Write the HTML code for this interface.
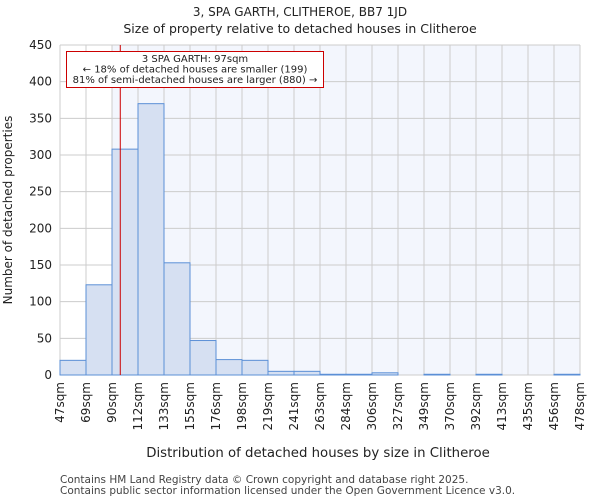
<!DOCTYPE html>
<html><head><meta charset="utf-8"><style>
body{margin:0;background:#fff;font-family:"DejaVu Sans","Liberation Sans",sans-serif;}
</style></head><body>
<svg width="600" height="500" xmlns="http://www.w3.org/2000/svg" font-family="DejaVu Sans, Liberation Sans, sans-serif">
<text x="300" y="16" font-size="12" text-anchor="middle" fill="#222">3, SPA GARTH, CLITHEROE, BB7 1JD</text>
<text x="300" y="33" font-size="12.5" text-anchor="middle" fill="#222">Size of property relative to detached houses in Clitheroe</text>
<g id="plot"></g>
<text x="318" y="457" font-size="13.3" text-anchor="middle" fill="#222">Distribution of detached houses by size in Clitheroe</text>
<text transform="translate(12,210) rotate(-90)" font-size="12" text-anchor="middle" fill="#222">Number of detached properties</text>
<text x="60" y="483" font-size="10.5" fill="#444">Contains HM Land Registry data © Crown copyright and database right 2025.</text>
<text x="60" y="494" font-size="10.5" fill="#444">Contains public sector information licensed under the Open Government Licence v3.0.</text>
</svg>
<script>
const categories=["47sqm","69sqm","90sqm","112sqm","133sqm","155sqm","176sqm","198sqm","219sqm","241sqm","263sqm","284sqm","306sqm","327sqm","349sqm","370sqm","392sqm","413sqm","435sqm","456sqm","478sqm"];
const counts=[20,123,308,370,153,47,21,20,5,5,1,1,3,0,1,0,1,0,0,1];
const yTicks=[0,50,100,150,200,250,300,350,400,450];
const edges=[47,69,90,112,133,155,176,198,219,241,263,284,306,327,349,370,392,413,435,456,478];
const subjectSize=97;
const NS="http://www.w3.org/2000/svg";
const L=60,R=580,T=45,B=375,yMax=450;
const n=counts.length,bw=(R-L)/n;
const y=v=>B-v/yMax*(B-T);
const xi=i=>L+i*bw;
function xv(v){for(let i=0;i<edges.length-1;i++){if(v<=edges[i+1])return xi(i)+bw*(v-edges[i])/(edges[i+1]-edges[i]);}return R;}
const g=document.getElementById('plot');
function mk(tag,a){const e=document.createElementNS(NS,tag);for(const k in a)e.setAttribute(k,a[k]);g.appendChild(e);return e;}
let bg=mk('rect',{x:L,y:T,width:R-L,height:B-T,fill:'#fff'});


let sh=mk('rect',{x:xi(2),y:T,width:R-xi(2),height:B-T,fill:'#f3f6fd'});


for(let i=0;i<=n;i++){let l=mk('line',{x1:xi(i),x2:xi(i),y1:T,y2:B,stroke:'#ccc','stroke-width':1});

}
yTicks.forEach(v=>{let l=mk('line',{x1:L,x2:R,y1:y(v),y2:y(v),stroke:'#ccc','stroke-width':1});


let t=mk('text',{x:L-8,y:y(v)+4,'font-size':12,'text-anchor':'end',fill:'#222'});t.textContent=v;

});
counts.forEach((c,i)=>{if(c<=0)return;let r=mk('rect',{x:xi(i),y:y(c),width:bw,height:B-y(c),fill:'#d6e0f2',stroke:'#5b8fd6','stroke-width':1});

});
categories.forEach((c,i)=>{let t=mk('text',{transform:`translate(${xi(i)+4},382) rotate(-90)`,'font-size':12,'text-anchor':'end',fill:'#222'});t.textContent=c;

});
const mx=xv(subjectSize);
let ml=mk('line',{x1:mx,x2:mx,y1:T,y2:B,stroke:'#cc0000','stroke-width':1});


let ab=mk('rect',{x:66.5,y:51.5,width:257,height:36,fill:'#fff',stroke:'#cc0000','stroke-width':1});


["3 SPA GARTH: 97sqm","← 18% of detached houses are smaller (199)","81% of semi-detached houses are larger (880) →"].forEach((s,k)=>{let t=mk('text',{x:195,y:62+k*10.5,'font-size':10,'text-anchor':'middle',fill:'#222'});t.textContent=s;

});
</script>
</body></html>
